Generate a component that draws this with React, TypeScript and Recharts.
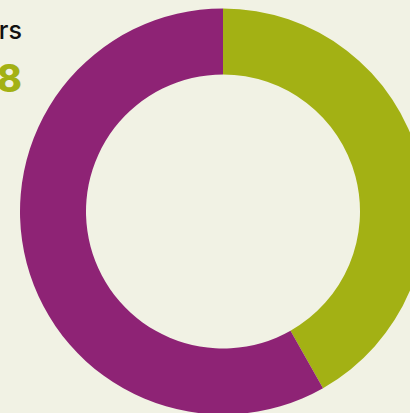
import { PieChart, Pie, Cell } from "recharts";

const segments = ["Returning", "New"];
const shares = [41.8, 58.2];
const colors = ["#a3b114", "#8e2375"];

const title = "Users";
const total = "1,248";

const data = segments.map((name, i) => ({ name, value: shares[i] }));

export default function App() {
  return (
    <div
      style={{
        position: "absolute",
        left: 0,
        top: 0,
        width: 410,
        height: 413,
        overflow: "hidden",
        background: "#f1f2e4",
        fontFamily: "Inter, sans-serif",
      }}
    >
      <div
        style={{
          position: "absolute",
          right: 388,
          top: 14,
          textAlign: "right",
          whiteSpace: "nowrap",
        }}
      >
        <div style={{ fontSize: 25, fontWeight: 500, color: "#111", lineHeight: "32px" }}>
          {title}
        </div>
        <div
          style={{
            fontSize: 38,
            fontWeight: 800,
            color: "#a3b114",
            lineHeight: "48px",
            marginTop: 8,
          }}
        >
          {total}
        </div>
      </div>
      <PieChart
        width={410}
        height={413}
        margin={{ top: 0, right: 0, bottom: 0, left: 0 }}
        style={{ position: "absolute", left: 0, top: 0 }}
      >
        <Pie
          data={data}
          dataKey="value"
          nameKey="name"
          cx={223}
          cy={211.5}
          innerRadius={137}
          outerRadius={203}
          startAngle={90}
          endAngle={-270}
          stroke="none"
          isAnimationActive={false}
        >
          {data.map((d, i) => (
            <Cell key={d.name} fill={colors[i]} />
          ))}
        </Pie>
      </PieChart>
    </div>
  );
}
